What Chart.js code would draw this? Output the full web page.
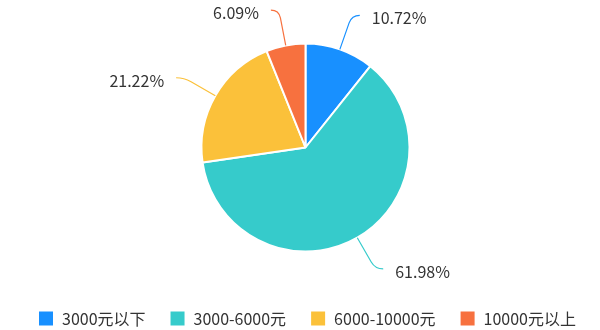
<!DOCTYPE html>
<html>
<head>
<meta charset="utf-8">
<script src="https://cdn.jsdelivr.net/npm/chart.js@4"></script>
<style>
  html, body { margin: 0; padding: 0; background: #fff; }
</style>
</head>
<body>
<canvas id="pieChart" width="600" height="330"></canvas>
<script>
// categories and shares (%)
const categories = ["3000元以下", "3000-6000元", "6000-10000元", "10000元以上"];
const shares = [10.72, 61.98, 21.22, 6.09];
const colors = ["#1890FF", "#36CBCB", "#FBC13A", "#F7713F"];

const FONT = "'Noto Sans CJK SC', 'Noto Sans', sans-serif";

// leader lines + percentage labels outside the pie
const outsideLabels = {
  id: "outsideLabels",
  afterDatasetsDraw(chart) {
    const ctx = chart.ctx;
    const meta = chart.getDatasetMeta(0);
    ctx.save();
    meta.data.forEach((arc, i) => {
      const p = arc.getProps(["x", "y", "startAngle", "endAngle", "outerRadius"], true);
      const mid = (p.startAngle + p.endAngle) / 2;
      const cos = Math.cos(mid), sin = Math.sin(mid);
      const r0 = p.outerRadius, r1 = p.outerRadius + 36;
      const side = cos >= 0 ? 1 : -1;
      const x0 = p.x + cos * r0, y0 = p.y + sin * r0;
      const x1 = p.x + cos * r1, y1 = p.y + sin * r1;
      const xa = p.x + cos * (r1 - 8), ya = p.y + sin * (r1 - 8);
      const x2 = x1 + side * 8;

      ctx.strokeStyle = colors[i];
      ctx.lineWidth = 1.2;
      ctx.beginPath();
      ctx.moveTo(x0, y0);
      ctx.lineTo(xa, ya);
      ctx.quadraticCurveTo(x1, y1, x2, y1);
      ctx.stroke();

      ctx.fillStyle = "#333";
      ctx.font = "16px " + FONT;
      ctx.textBaseline = "middle";
      ctx.textAlign = side > 0 ? "left" : "right";
      ctx.fillText(shares[i].toFixed(2) + "%", x2 + side * 12, y1 + 3);
    });
    ctx.restore();
  }
};

const ctx = document.getElementById("pieChart").getContext("2d");
new Chart(ctx, {
  type: "pie",
  data: {
    labels: categories,
    datasets: [
      {
        data: shares,
        backgroundColor: colors,
        borderColor: "#fff",
        borderWidth: 2,
        radius: 104,
      },
    ],
  },
  options: {
    responsive: false,
    animation: false,
    layout: { padding: { left: 11, right: -3, top: 8.5, bottom: -6.5 } },
    plugins: {
      tooltip: { enabled: false },
      legend: {
        position: "bottom",
        labels: {
          boxWidth: 16,
          boxHeight: 16,
          padding: 24,
          color: "#333",
          font: { size: 16, family: FONT },
        },
      },
    },
  },
  plugins: [outsideLabels],
});
</script>
</body>
</html>
